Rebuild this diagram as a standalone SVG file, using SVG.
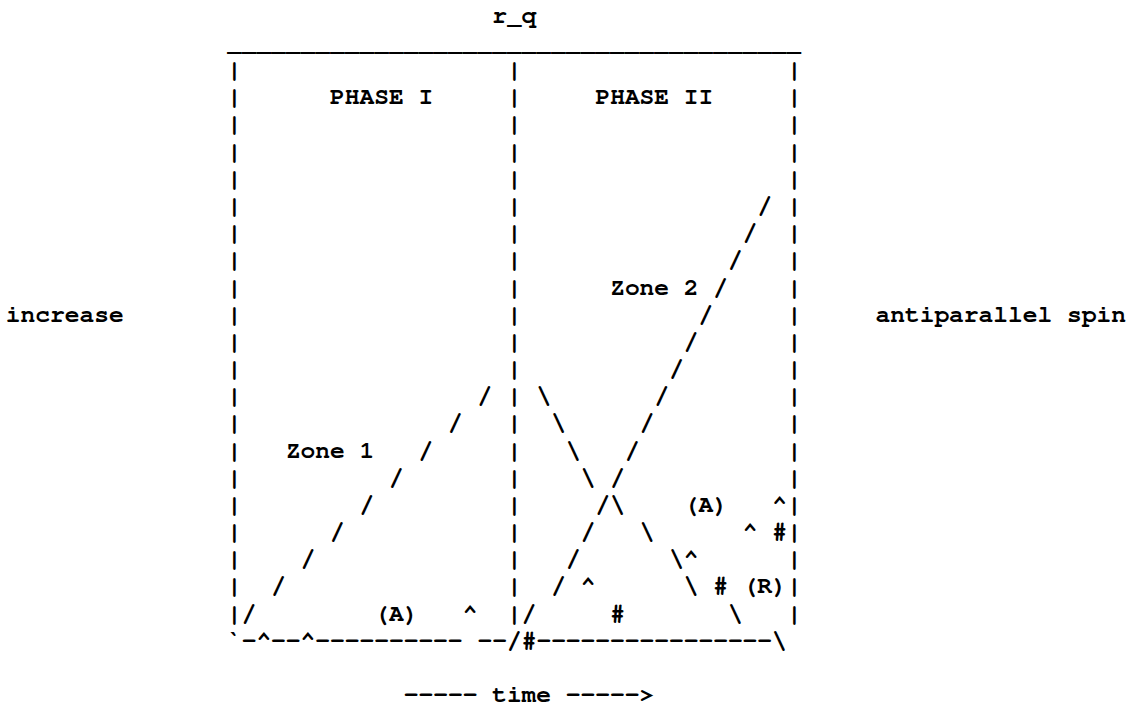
<svg xmlns="http://www.w3.org/2000/svg" width="1133" height="705" viewBox="0 0 1133 705">
<style>
text{font-family:"Nimbus Mono PS","Nimbus Mono L","FreeMono","Courier New","Liberation Mono",monospace;font-size:24.56px;font-weight:bold;fill:#000;white-space:pre}
</style>
<rect width="1133" height="705" fill="#fff"/>
<g id="title"><text x="492.25" y="22.8">r_q</text></g>
<g id="frame">
<text x="226.93" y="49.97">_______________________________________</text>
<text><tspan x="226.93" y="77.14">|</tspan><tspan x="226.93" y="104.31">|</tspan><tspan x="226.93" y="131.48">|</tspan><tspan x="226.93" y="158.65">|</tspan><tspan x="226.93" y="185.82">|</tspan><tspan x="226.93" y="212.99">|</tspan><tspan x="226.93" y="240.16">|</tspan><tspan x="226.93" y="267.33">|</tspan><tspan x="226.93" y="294.5">|</tspan><tspan x="226.93" y="321.67">|</tspan><tspan x="226.93" y="348.84">|</tspan><tspan x="226.93" y="376.01">|</tspan><tspan x="226.93" y="403.18">|</tspan><tspan x="226.93" y="430.35">|</tspan><tspan x="226.93" y="457.52">|</tspan><tspan x="226.93" y="484.69">|</tspan><tspan x="226.93" y="511.86">|</tspan><tspan x="226.93" y="539.03">|</tspan><tspan x="226.93" y="566.2">|</tspan><tspan x="226.93" y="593.37">|</tspan><tspan x="226.93" y="620.54">|</tspan></text>
<text><tspan x="506.99" y="77.14">|</tspan><tspan x="506.99" y="104.31">|</tspan><tspan x="506.99" y="131.48">|</tspan><tspan x="506.99" y="158.65">|</tspan><tspan x="506.99" y="185.82">|</tspan><tspan x="506.99" y="212.99">|</tspan><tspan x="506.99" y="240.16">|</tspan><tspan x="506.99" y="267.33">|</tspan><tspan x="506.99" y="294.5">|</tspan><tspan x="506.99" y="321.67">|</tspan><tspan x="506.99" y="348.84">|</tspan><tspan x="506.99" y="376.01">|</tspan><tspan x="506.99" y="403.18">|</tspan><tspan x="506.99" y="430.35">|</tspan><tspan x="506.99" y="457.52">|</tspan><tspan x="506.99" y="484.69">|</tspan><tspan x="506.99" y="511.86">|</tspan><tspan x="506.99" y="539.03">|</tspan><tspan x="506.99" y="566.2">|</tspan><tspan x="506.99" y="593.37">|</tspan><tspan x="506.99" y="620.54">|</tspan></text>
<text><tspan x="787.05" y="77.14">|</tspan><tspan x="787.05" y="104.31">|</tspan><tspan x="787.05" y="131.48">|</tspan><tspan x="787.05" y="158.65">|</tspan><tspan x="787.05" y="185.82">|</tspan><tspan x="787.05" y="212.99">|</tspan><tspan x="787.05" y="240.16">|</tspan><tspan x="787.05" y="267.33">|</tspan><tspan x="787.05" y="294.5">|</tspan><tspan x="787.05" y="321.67">|</tspan><tspan x="787.05" y="348.84">|</tspan><tspan x="787.05" y="376.01">|</tspan><tspan x="787.05" y="403.18">|</tspan><tspan x="787.05" y="430.35">|</tspan><tspan x="787.05" y="457.52">|</tspan><tspan x="787.05" y="484.69">|</tspan><tspan x="787.05" y="511.86">|</tspan><tspan x="787.05" y="539.03">|</tspan><tspan x="787.05" y="566.2">|</tspan><tspan x="787.05" y="593.37">|</tspan><tspan x="787.05" y="620.54">|</tspan></text>
<text x="226.93" y="647.71">`-^--^----------</text>
<text x="477.51" y="647.71">--/#----------------\</text>
</g>
<g id="phase1"><text x="330.11" y="104.31">PHASE I</text></g>
<g id="phase2"><text x="595.43" y="104.31">PHASE II</text></g>
<g id="zone2"><text x="610.17" y="294.5">Zone 2</text></g>
<g id="zone1"><text x="285.89" y="457.52">Zone 1</text></g>
<g id="increase"><text x="5.83" y="321.67">increase</text></g>
<g id="spin"><text x="875.49" y="321.67">antiparallel spin</text></g>
<g id="time"><text x="403.81" y="702.05">----- time -----&gt;</text></g>
<g id="marks">
<text x="683.87" y="511.86">(A)</text>
<text x="772.31" y="511.86">^</text>
<text x="742.83" y="539.03">^</text>
<text x="772.31" y="539.03">#</text>
<text x="683.87" y="566.2">^</text>
<text x="580.69" y="593.37">^</text>
<text x="713.35" y="593.37">#</text>
<text x="742.83" y="593.37">(R)</text>
<text x="374.33" y="620.54">(A)</text>
<text x="462.77" y="620.54">^</text>
<text x="610.17" y="620.54">#</text>
</g>
<g id="connectors">
<text><tspan x="477.51" y="403.18">/</tspan><tspan x="448.03" y="430.35">/</tspan><tspan x="418.55" y="457.52">/</tspan><tspan x="389.07" y="484.69">/</tspan><tspan x="359.59" y="511.86">/</tspan><tspan x="330.11" y="539.03">/</tspan><tspan x="300.63" y="566.2">/</tspan><tspan x="271.15" y="593.37">/</tspan><tspan x="241.67" y="620.54">/</tspan></text>
<text><tspan x="536.47" y="403.18">\</tspan><tspan x="551.21" y="430.35">\</tspan><tspan x="565.95" y="457.52">\</tspan><tspan x="580.69" y="484.69">\</tspan><tspan x="610.17" y="511.86">\</tspan><tspan x="639.65" y="539.03">\</tspan><tspan x="669.13" y="566.2">\</tspan><tspan x="683.87" y="593.37">\</tspan><tspan x="728.09" y="620.54">\</tspan></text>
<text><tspan x="757.57" y="212.99">/</tspan><tspan x="742.83" y="240.16">/</tspan><tspan x="728.09" y="267.33">/</tspan><tspan x="713.35" y="294.5">/</tspan><tspan x="698.61" y="321.67">/</tspan><tspan x="683.87" y="348.84">/</tspan><tspan x="669.13" y="376.01">/</tspan><tspan x="654.39" y="403.18">/</tspan><tspan x="639.65" y="430.35">/</tspan><tspan x="624.91" y="457.52">/</tspan><tspan x="610.17" y="484.69">/</tspan><tspan x="595.43" y="511.86">/</tspan><tspan x="580.69" y="539.03">/</tspan><tspan x="565.95" y="566.2">/</tspan><tspan x="551.21" y="593.37">/</tspan><tspan x="521.73" y="620.54">/</tspan></text>
</g>
</svg>
